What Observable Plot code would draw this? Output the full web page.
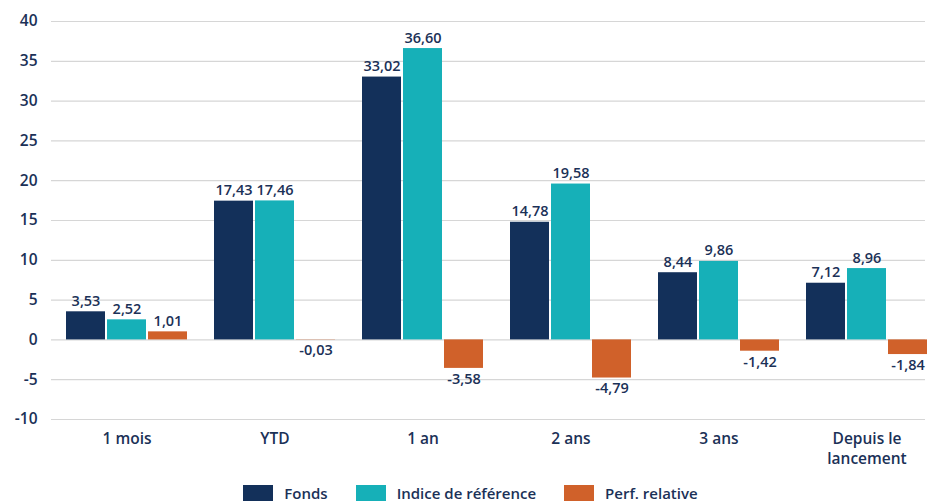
<!DOCTYPE html>
<html><head><meta charset="utf-8">
<script src="https://cdn.jsdelivr.net/npm/d3@7"></script>
<script src="https://cdn.jsdelivr.net/npm/@observablehq/plot@0.6"></script>
<style>
body{margin:0;background:#fff;font-family:"Open Sans",sans-serif;color:#1b3157;overflow:hidden;}
#chart svg{display:block;}
#legend{display:flex;justify-content:center;align-items:center;gap:28px;margin-top:15px;font-size:15px;line-height:16px;font-weight:600;padding-left:10px;}
#legend .item{display:flex;align-items:center;gap:11px;}
#legend .sw{width:30px;height:16px;display:inline-block;}
</style>
</head><body>
<div id="chart"></div>
<div id="legend"></div>
<script>
const categories = ["1 mois","YTD","1 an","2 ans","3 ans","Depuis le\nlancement"];
const seriesNames = ["Fonds","Indice de référence","Perf. relative"];
const fonds = [3.53,17.43,33.02,14.78,8.44,7.12];
const indice = [2.52,17.46,36.60,19.58,9.86,8.96];
const relative = [1.01,-0.03,-3.58,-4.79,-1.42,-1.84];
const yTicks = [-10,-5,0,5,10,15,20,25,30,35,40];
const colors = ["#13305a","#16b0b8","#d0612a"];
const textColor = "#1b3157";

const seriesValues = [fonds, indice, relative];
const fmt = v => v.toFixed(2).replace(".", ",");
const bw = 121, barW = 39, gap = 2;

const marks = [
  Plot.ruleY(yTicks, {stroke:"#d6d6d6", strokeWidth:1.2})
];
seriesValues.forEach((vals, i) => {
  const rows = categories.map((c, j) => ({cat:c, value:vals[j]}));
  const left = i*(barW+gap), right = bw - left - barW;
  const off = left + barW/2 - bw/2;
  marks.push(Plot.barY(rows, {x:"cat", y:"value", fill:colors[i], insetLeft:left, insetRight:right}));
  marks.push(Plot.text(rows.filter(d=>d.value>=0), {x:"cat", y:"value", text:d=>fmt(d.value), dx:off, dy:-6, lineAnchor:"bottom", fill:textColor, fontSize:14.5, fontWeight:600}));
  marks.push(Plot.text(rows.filter(d=>d.value<0), {x:"cat", y:"value", text:d=>fmt(d.value), dx:off, dy:5, lineAnchor:"top", fill:textColor, fontSize:14.5, fontWeight:600}));
});
marks.push(Plot.axisX({tickSize:0, tickPadding:10, lineHeight:1.3, fontSize:15.5, fontWeight:600, fill:textColor, label:null}));
marks.push(Plot.axisY({ticks:yTicks, tickFormat:d=>String(d), tickSize:0, tickPadding:14, fontSize:15.5, fontWeight:600, fill:textColor, label:null}));

const chart = Plot.plot({
  width:931, height:470,
  marginLeft:51, marginRight:6, marginTop:21, marginBottom:51,
  style:{fontFamily:"'Open Sans', sans-serif", color:textColor},
  x:{domain:categories, range:[51.25,942.25], paddingInner:0.185, paddingOuter:0.0925},
  y:{domain:[-10,40]},
  marks
});
document.getElementById("chart").appendChild(chart);

const lg = document.getElementById("legend");
seriesNames.forEach((n,i)=>{
  const it = document.createElement("div"); it.className="item";
  const sw = document.createElement("span"); sw.className="sw"; sw.style.background=colors[i];
  const t = document.createElement("span"); t.textContent=n;
  it.appendChild(sw); it.appendChild(t); lg.appendChild(it);
});
</script>
</body></html>
